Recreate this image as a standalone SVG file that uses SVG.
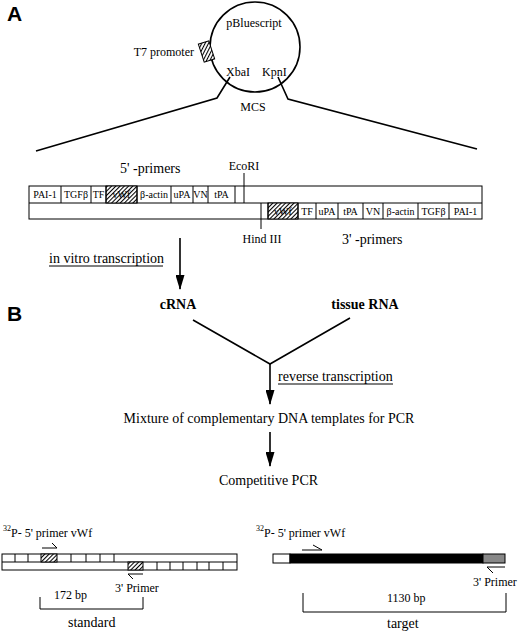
<svg xmlns="http://www.w3.org/2000/svg" width="520" height="633" viewBox="0 0 520 633">
<style>
text{font-family:"Liberation Serif","Times New Roman",serif;fill:#000}
.pl{font-family:"Liberation Sans",Arial,sans-serif;font-weight:bold;font-size:21px}
.cell{font-size:10px;text-anchor:middle}
.lbl{font-size:12px}
.big{font-size:14px}
.bold{font-size:14px;font-weight:bold;text-anchor:middle}
.mid{text-anchor:middle}
.box{fill:#fff;stroke:#000;stroke-width:1}
.ln{fill:none;stroke:#000;stroke-width:1.6}
.thin{fill:none;stroke:#000;stroke-width:1}
.hat{fill:url(#hatch);stroke:#000;stroke-width:1}
</style>
<defs>
<pattern id="hatch" width="3" height="3" patternUnits="userSpaceOnUse" patternTransform="rotate(45)">
<rect width="3" height="3" fill="#fff"/>
<line x1="0.5" y1="0" x2="0.5" y2="3" stroke="#000" stroke-width="1.1"/>
</pattern>
<marker id="ah" markerWidth="15" markerHeight="9" refX="14" refY="4.5" orient="auto" markerUnits="userSpaceOnUse" viewBox="0 0 15 9">
<path d="M0,0 L15,4.5 L0,9 z" fill="#000"/>
</marker>
</defs>
<rect width="520" height="633" fill="#fff"/>

<g id="panel-labels">
<text class="pl" x="7" y="21">A</text>
<text class="pl" x="7" y="321">B</text>
</g>

<g id="plasmid">
<circle cx="255" cy="47" r="45" class="ln"/>
<text class="lbl mid" x="254" y="27">pBluescript</text>
<rect x="201" y="42" width="11" height="19" class="hat" transform="rotate(-18 206.5 51.5)"/>
<text class="lbl" x="194" y="56" text-anchor="end">T7 promoter</text>
<text class="lbl" x="226" y="76">XbaI</text>
<text class="lbl" x="262" y="76">KpnI</text>
<text class="lbl mid" x="253" y="111">MCS</text>
</g>

<g id="construct">
<rect x="29" y="186" width="453" height="33" class="box"/>
<line x1="29" y1="203" x2="482" y2="203" class="thin"/>
<rect x="106" y="186" width="31" height="17" class="hat"/>
<rect x="268" y="203" width="30" height="16" class="hat"/>
<path class="thin" d="M61,186V203M91,186V203M106,186V203M137,186V203M171,186V203M193,186V203M208,186V203M235,186V203M244,173V203"/>
<path class="thin" d="M261,203V229M268,203V219M298,203V219M316,203V219M338,203V219M363,203V219M383,203V219M418,203V219M449,203V219"/>
<text class="cell" x="45" y="198">PAI-1</text>
<text class="cell" x="76" y="198">TGFβ</text>
<text class="cell" x="98.5" y="198">TF</text>
<text class="cell" x="121.5" y="198">vWf</text>
<text class="cell" x="154" y="198">β-actin</text>
<text class="cell" x="182" y="198">uPA</text>
<text class="cell" x="200.5" y="198">VN</text>
<text class="cell" x="221.5" y="198">tPA</text>
<text class="cell" x="283" y="215">vWf</text>
<text class="cell" x="307" y="215">TF</text>
<text class="cell" x="327" y="215">uPA</text>
<text class="cell" x="350.5" y="215">tPA</text>
<text class="cell" x="373" y="215">VN</text>
<text class="cell" x="400.5" y="215">β-actin</text>
<text class="cell" x="433.5" y="215">TGFβ</text>
<text class="cell" x="465.5" y="215">PAI-1</text>
<text class="big" x="120" y="173">5' -primers</text>
<text class="lbl mid" x="244" y="170">EcoRI</text>
<text class="lbl mid" x="262" y="243">Hind III</text>
<text class="big" x="342" y="244">3' -primers</text>
</g>

<g id="cRNA"><text class="bold" x="178" y="309">cRNA</text></g>
<g id="tissueRNA"><text class="bold" x="365" y="309">tissue RNA</text></g>
<g id="mixture"><text class="big mid" x="269" y="423">Mixture of complementary DNA templates for PCR</text></g>
<g id="competitive"><text class="big mid" x="268.5" y="485">Competitive PCR</text></g>

<g id="connectors">
<polyline class="ln" points="230,77 217,98 36,151"/>
<polyline class="ln" points="278,77 288,99 477,149"/>
<line class="ln" x1="180" y1="238" x2="180" y2="289" marker-end="url(#ah)"/>
<text class="big" x="49" y="263">in vitro transcription</text>
<line class="thin" x1="49" y1="266" x2="163" y2="266"/>
<polyline class="ln" points="193,320 270,364 350,318"/>
<line class="ln" x1="270" y1="364" x2="270" y2="404" marker-end="url(#ah)"/>
<text class="big" x="278" y="381">reverse transcription</text>
<line class="thin" x1="278" y1="384" x2="393" y2="384"/>
<line class="ln" x1="270" y1="432" x2="270" y2="466" marker-end="url(#ah)"/>
</g>

<g id="standard">
<text class="lbl" x="9" y="537"><tspan font-size="8" dy="-6" x="3">32</tspan><tspan dy="6">P- 5' primer vWf</tspan></text>
<path class="thin" d="M42,548H57L52,543"/>
<rect x="2" y="554" width="235" height="16" class="box"/>
<line x1="2" y1="562" x2="237" y2="562" class="thin"/>
<rect x="41" y="554" width="16" height="8" class="hat"/>
<rect x="128" y="562" width="15" height="8" class="hat"/>
<path class="thin" d="M15,554V562M28,554V562M71,554V562M86,554V562M100,554V562M114,554V562M157,562V570M170,562V570M183,562V570M197,562V570M209,562V570M223,562V570"/>
<path class="thin" d="M143,574H128L133,579"/>
<text class="lbl" x="115" y="592">3' Primer</text>
<text class="lbl" x="54" y="599">172 bp</text>
<path class="thin" d="M40,597V609H143V597"/>
<text class="big" x="68" y="627">standard</text>
</g>

<g id="target">
<text class="lbl" x="263" y="537"><tspan font-size="8" dy="-6" x="256">32</tspan><tspan dy="6">P- 5' primer vWf</tspan></text>
<path class="thin" d="M302,550H322L313,545"/>
<rect x="273" y="554" width="17" height="9" fill="#fff" stroke="#000"/>
<rect x="290" y="554" width="193" height="9" fill="#000" stroke="#000"/>
<rect x="483" y="554" width="22" height="9" fill="#888" stroke="#000"/>
<path class="thin" d="M505,567H487L493,573"/>
<text class="lbl" x="473" y="586">3' Primer</text>
<text class="lbl" x="387" y="602">1130 bp</text>
<path class="thin" d="M303,593V612H506V593"/>
<text class="big" x="387" y="628">target</text>
</g>
</svg>
